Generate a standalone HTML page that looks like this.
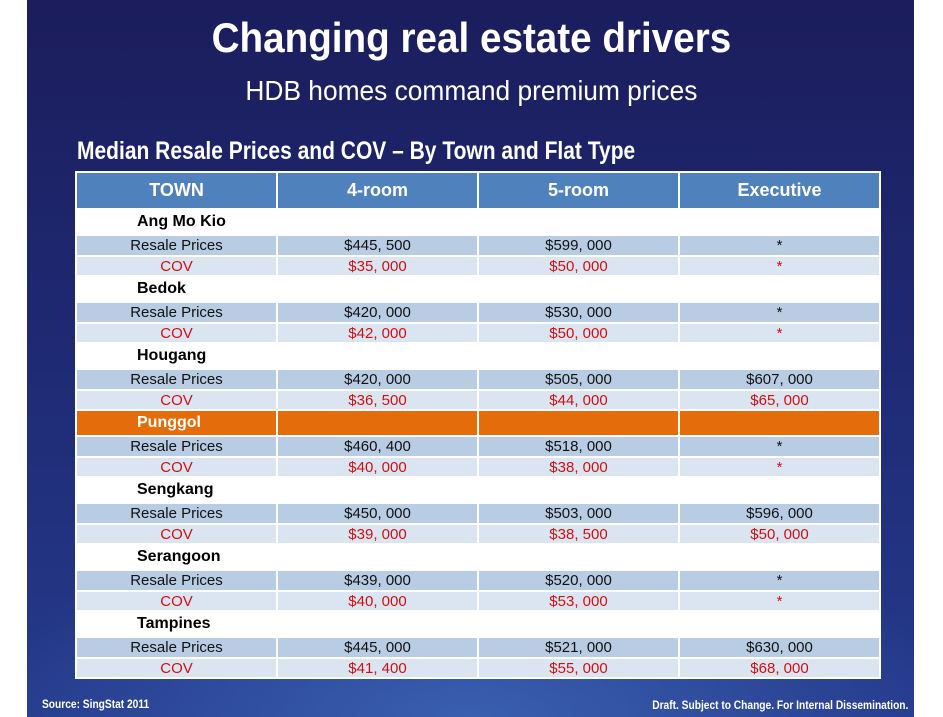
<!DOCTYPE html>
<html><head><style>
body{margin:0;width:943px;height:717px;background:#fff;overflow:hidden;font-family:"Liberation Sans",sans-serif;}
#slide{position:absolute;left:27px;top:0;width:887px;height:717px;
background:radial-gradient(ellipse 500px 200px at 50% 100%,#3a5fb0 0%,rgba(40,60,150,0) 100%),linear-gradient(180deg,#1b1d5c 0%,#1f2a74 50%,#253a8c 100%);}
.c{position:absolute;left:0;width:943px;text-align:center;color:#fff;white-space:nowrap}
.c span{display:inline-block}
table{position:absolute;left:75px;top:171px;width:806px;border-collapse:collapse;table-layout:fixed;font-size:15px;}
td{border:2px solid #fff;text-align:center;padding:0;white-space:nowrap;}
th{background:#4f81bd;color:#fff;border:2px solid #fff;height:33px;font-size:18px;}
tr.t td{background:#fff;height:24px;font-weight:bold;font-size:16px;border-top:none;border-bottom:none}
tr.t td:first-child{text-align:left;padding-left:60px}
tr.r td{background:#b8cce4;height:19px;color:#111}
tr.v td{background:#dbe5f1;height:18px;color:#d01010}
tr.p td{background:#e46c0a;color:#fff}
</style></head><body>
<div id="slide"></div>
<div class="c" style="top:14px;font-size:42px;font-weight:bold"><span style="transform:scaleX(.92)">Changing real estate drivers</span></div>
<div class="c" style="top:75px;font-size:28px"><span style="transform:scaleX(.94)">HDB homes command premium prices</span></div>
<div style="position:absolute;left:77px;top:137px;color:#fff;font-size:25px;font-weight:bold;white-space:nowrap;transform:scaleX(.84);transform-origin:left">Median Resale Prices and COV – By Town and Flat Type</div>
<table>
<tr><th>TOWN</th><th>4-room</th><th>5-room</th><th>Executive</th></tr>
<tr class="t"><td>Ang Mo Kio</td><td></td><td></td><td></td></tr>
<tr class="r"><td>Resale Prices</td><td>$445, 500</td><td>$599, 000</td><td>*</td></tr>
<tr class="v"><td>COV</td><td>$35, 000</td><td>$50, 000</td><td>*</td></tr>
<tr class="t"><td>Bedok</td><td></td><td></td><td></td></tr>
<tr class="r"><td>Resale Prices</td><td>$420, 000</td><td>$530, 000</td><td>*</td></tr>
<tr class="v"><td>COV</td><td>$42, 000</td><td>$50, 000</td><td>*</td></tr>
<tr class="t"><td>Hougang</td><td></td><td></td><td></td></tr>
<tr class="r"><td>Resale Prices</td><td>$420, 000</td><td>$505, 000</td><td>$607, 000</td></tr>
<tr class="v"><td>COV</td><td>$36, 500</td><td>$44, 000</td><td>$65, 000</td></tr>
<tr class="t p"><td>Punggol</td><td></td><td></td><td></td></tr>
<tr class="r"><td>Resale Prices</td><td>$460, 400</td><td>$518, 000</td><td>*</td></tr>
<tr class="v"><td>COV</td><td>$40, 000</td><td>$38, 000</td><td>*</td></tr>
<tr class="t"><td>Sengkang</td><td></td><td></td><td></td></tr>
<tr class="r"><td>Resale Prices</td><td>$450, 000</td><td>$503, 000</td><td>$596, 000</td></tr>
<tr class="v"><td>COV</td><td>$39, 000</td><td>$38, 500</td><td>$50, 000</td></tr>
<tr class="t"><td>Serangoon</td><td></td><td></td><td></td></tr>
<tr class="r"><td>Resale Prices</td><td>$439, 000</td><td>$520, 000</td><td>*</td></tr>
<tr class="v"><td>COV</td><td>$40, 000</td><td>$53, 000</td><td>*</td></tr>
<tr class="t"><td>Tampines</td><td></td><td></td><td></td></tr>
<tr class="r"><td>Resale Prices</td><td>$445, 000</td><td>$521, 000</td><td>$630, 000</td></tr>
<tr class="v"><td>COV</td><td>$41, 400</td><td>$55, 000</td><td>$68, 000</td></tr>
</table>
<div style="position:absolute;left:42px;top:697px;color:#fff;font-size:12px;font-weight:bold;transform:scaleX(.85);transform-origin:left;white-space:nowrap">Source: SingStat 2011</div>
<div style="position:absolute;right:35px;top:698px;color:#fff;font-size:12px;font-weight:bold;transform:scaleX(.85);transform-origin:right;white-space:nowrap">Draft. Subject to Change. For Internal Dissemination.</div>
</body></html>
